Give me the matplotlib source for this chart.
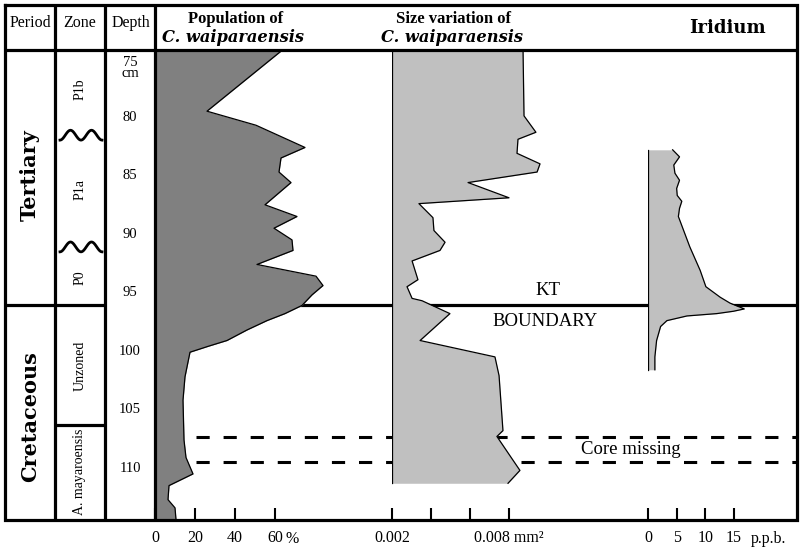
import matplotlib
matplotlib.use("Agg")
import matplotlib.pyplot as plt
import numpy as np

plt.rcParams["font.family"] = "Liberation Serif"
plt.rcParams["lines.scale_dashes"] = False

# Depth (cm) of the section, top and bottom of the plotted core
depth_top = 74.27
depth_bottom = 114.44
depth_ticks = [80, 85, 90, 95, 100, 105, 110]

# Zones and periods
kt_depth = 96.1
zone_breaks_wavy = [81.55, 91.1]
zone_break_line = 106.3
zone_names = ["P1b", "P1a", "P0", "Unzoned", "A. mayaroensis"]
zone_label_depth = [77.6, 86.2, 93.7, 101.3, 110.3]
period_names = ["Tertiary", "Cretaceous"]
period_label_depth = [84.96, 105.56]
core_missing = [107.35, 109.5]

# Population of C. waiparaensis (%)
pop_depth = [74.3, 79.5, 80.7, 82.6, 83.5, 84.7, 85.6, 87.5, 88.5, 89.5,
             90.5, 91.4, 92.6, 93.6, 94.4, 95.2, 96.1, 96.8, 97.4, 98.2,
             99.1, 99.6, 100.1, 102.2, 104.2, 107.6, 109.1, 110.5, 111.5, 112.7,
             113.4, 114.4]
pop_pct = [63.5, 26, 50.5, 75, 63, 62, 68, 55, 71, 59.5,
           68.5, 69, 51, 80.5, 84, 78.5, 73.5, 65, 56, 46,
           36, 26.5, 17.5, 15, 14, 14.5, 15.5, 19, 7, 6.5,
           10, 10.5]

# Size variation of C. waiparaensis (mm2)
size_depth = [74.3, 79.9, 81.3, 81.9, 83.1, 84.0, 84.7, 85.6, 86.9, 87.4,
              88.6, 89.7, 90.7, 91.4, 92.3, 93.9, 94.5, 95.5, 95.7, 96.8,
              99.1, 100.5, 102.1, 106.8, 107.3, 110.2, 111.3]
size_mm2 = [0.00872, 0.00877, 0.00938, 0.00846, 0.00841, 0.00959, 0.00944, 0.00590, 0.00800, 0.00338,
            0.00410, 0.00415, 0.00472, 0.00446, 0.00303, 0.00333, 0.00277, 0.00303, 0.00354, 0.00497,
            0.00344, 0.00728, 0.00749, 0.00769, 0.00738, 0.00856, 0.00795]
size_base = 0.002

# Iridium (p.p.b.)
ir_depth = [82.8, 83.4, 84.1, 84.8, 85.4, 86.1, 86.7, 87.2, 87.8, 88.5,
            91.1, 93.1, 94.5, 95.4, 95.9, 96.4, 96.6, 96.8, 97.0, 97.4,
            97.9, 99.1, 100.5, 101.6]
ir_ppb = [4.3, 5.5, 4.5, 4.7, 5.5, 5.0, 5.1, 5.9, 5.5, 5.3,
          7.3, 9.1, 10.1, 12.6, 14.3, 16.8, 14.9, 12.0, 6.8, 3.3,
          2.2, 1.5, 1.2, 1.2]

W, H = 801, 550
TOP, BOTTOM = 50, 520
LW = 2.3

fig = plt.figure(figsize=(W / 100, H / 100), dpi=100)


def box(x0, x1, y0=TOP, y1=BOTTOM):
    return [x0 / W, 1 - y1 / H, (x1 - x0) / W, (y1 - y0) / H]


def depth_axes(x0, x1, xlim, z=1):
    ax = fig.add_axes(box(x0, x1), zorder=z)
    ax.set_xlim(*xlim)
    ax.set_ylim(depth_bottom, depth_top)
    ax.patch.set_visible(False)
    for s in ax.spines.values():
        s.set_visible(False)
    ax.set_yticks([])
    return ax


# background: KT boundary and core-missing lines
ax_bg = depth_axes(155, 797, (155, 797), z=0)
ax_bg.set_xticks([])
ax_bg.axhline(kt_depth, color="k", lw=LW)
ax_bg.hlines(core_missing, 196, 797, color="k", lw=2.2, linestyles=[(0, (9.5, 10))])
ax_bg.text(548, 94.8, "KT", ha="center", va="center", fontsize=13.5)
ax_bg.text(545, 97.5, "BOUNDARY", ha="center", va="center", fontsize=13.5)
ax_bg.text(631, 108.4, "Core missing", ha="center", va="center", fontsize=13.5)

# left columns: period, zone, depth
ax_left = depth_axes(5, 155, (0, 3), z=1)
ax_left.set_xticks([])
ax_left.hlines(kt_depth, 0, 2, color="k", lw=LW)
ax_left.hlines(zone_break_line, 1, 2, color="k", lw=LW)
t = np.linspace(0, 1, 80)
for d in zone_breaks_wavy:
    ax_left.plot(1.1 + 0.84 * t, d + 0.42 * np.cos(4 * np.pi * t), color="k", lw=2)
for name, d in zip(zone_names, zone_label_depth):
    ax_left.text(1.5, d, name, rotation=90, ha="center", va="center", fontsize=10)
for name, d in zip(period_names, period_label_depth):
    ax_left.text(0.5, d, name, rotation=90, ha="center", va="center", fontsize=15,
                 family="DejaVu Serif", fontweight="bold")
for d in depth_ticks:
    ax_left.text(2.5, d, str(d), ha="center", va="center", fontsize=10.5)
ax_left.text(2.5, 74.75, "75\ncm", ha="center", va="top", fontsize=10.5, linespacing=0.85)

tick_kw = dict(axis="x", direction="in", length=9, width=1.5, pad=7, labelsize=11.5)

# population
ax_pop = depth_axes(155, 355, (0, 100), z=2)
ax_pop.fill_betweenx(pop_depth, 0, pop_pct, color="#808080", lw=0)
ax_pop.plot(pop_pct, pop_depth, color="k", lw=0.9)
ax_pop.set_xticks([0, 20, 40, 60], ["0", "20", "40", "60"])
ax_pop.tick_params(**tick_kw)

# size variation
ax_size = depth_axes(392, 392 + 8.5 * 19.5, (0.002, 0.0105), z=2)
ax_size.fill_betweenx(size_depth, size_base, size_mm2, color="#c0c0c0", lw=0)
ax_size.plot(size_mm2, size_depth, color="k", lw=0.9)
ax_size.plot([size_base, size_base], [size_depth[0], size_depth[-1]], color="k", lw=0.9)
ax_size.set_xticks([0.002, 0.004, 0.006, 0.008], ["0.002", "", "", "0.008 mm²"])
ax_size.tick_params(**tick_kw)

# iridium
ax_ir = depth_axes(648, 648 + 25 * 5.73, (0, 25), z=2)
ax_ir.fill_betweenx(ir_depth, 0, ir_ppb, color="#c0c0c0", lw=0)
ax_ir.plot(ir_ppb, ir_depth, color="k", lw=0.9)
ax_ir.plot([0, 0], [ir_depth[0], ir_depth[-1]], color="k", lw=0.9)
ax_ir.set_xticks([0, 5, 10, 15], ["0", "5", "10", "15"])
ax_ir.tick_params(**tick_kw)

# table frame and headers
ax_fr = fig.add_axes([0, 0, 1, 1], zorder=5)
ax_fr.set_xlim(0, W)
ax_fr.set_ylim(H, 0)
ax_fr.axis("off")
ax_fr.plot([5, 797, 797, 5, 5], [5, 5, 520, 520, 5], color="k", lw=LW, solid_joinstyle="miter")
ax_fr.hlines(TOP, 5, 797, color="k", lw=LW)
ax_fr.vlines([55, 105, 155], 5, 520, color="k", lw=LW)

ax_fr.text(30, 23, "Period", ha="center", va="center", fontsize=11.5)
ax_fr.text(80, 23, "Zone", ha="center", va="center", fontsize=11.5)
ax_fr.text(131, 23, "Depth", ha="center", va="center", fontsize=11.5)
ax_fr.text(236, 19, "Population of", ha="center", va="center", fontsize=12, fontweight="bold")
ax_fr.text(233, 37, "C. waiparaensis", ha="center", va="center", fontsize=11.7,
           family="DejaVu Serif", fontweight="bold", style="italic")
ax_fr.text(454, 19, "Size variation of", ha="center", va="center", fontsize=12, fontweight="bold")
ax_fr.text(452, 37, "C. waiparaensis", ha="center", va="center", fontsize=11.7,
           family="DejaVu Serif", fontweight="bold", style="italic")
ax_fr.text(727, 28, "Iridium", ha="center", va="center", fontsize=13,
           family="DejaVu Serif", fontweight="bold")

ax_fr.text(286, 539, "%", ha="left", va="center", fontsize=11.5)
ax_fr.text(751, 539, "p.p.b.", ha="left", va="center", fontsize=11.5)

fig.savefig("out.png", dpi=100)
